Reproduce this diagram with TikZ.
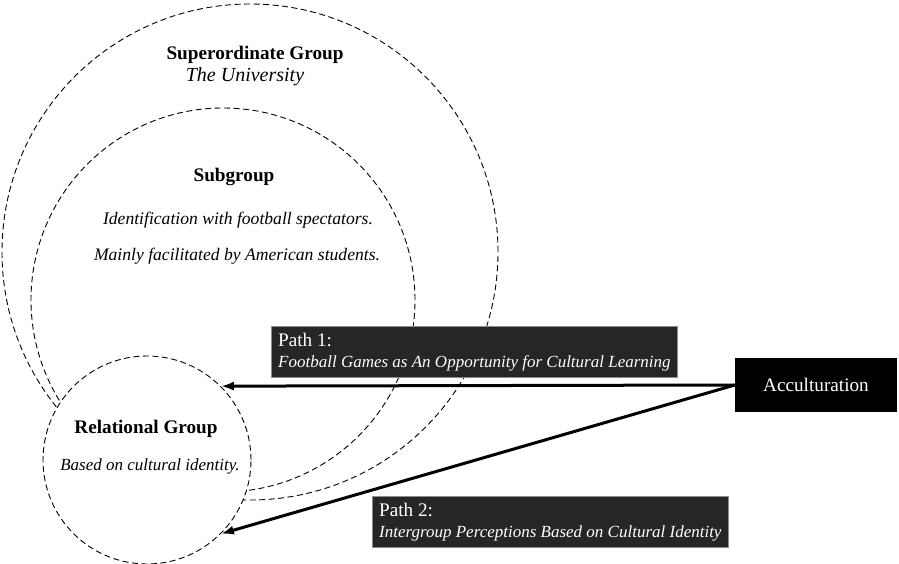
\documentclass[tikz,border=0pt]{standalone}
\usepackage{fontspec}
\setmainfont{LiberationSerif}[Extension=.ttf,UprightFont=*-Regular,BoldFont=*-Bold,ItalicFont=*-Italic,BoldItalicFont=*-BoldItalic]
\usetikzlibrary{arrows.meta}

\begin{document}
\begin{tikzpicture}[x=1pt,y=-1pt,
groupcircle/.style={circle,draw=black,dash pattern=on 6pt off 3.5pt,line width=0.9pt,inner sep=0pt},
grouptitle/.style={anchor=base,font=\fontsize{19.2}{22}\selectfont\bfseries},
groupnote/.style={anchor=base,font=\fontsize{17.6}{20}\selectfont\itshape},
pathbox/.style={anchor=north west,fill=black!85,draw=black!45,text=white,align=left,inner xsep=7pt,inner ysep=7pt,font=\fontsize{19.2}{20.5}\selectfont},
accbox/.style={fill=black,text=white,minimum width=162pt,minimum height=54pt,font=\fontsize{19.2}{22}\selectfont},
patharrow/.style={-{Latex[length=13pt,width=9pt]},line width=3pt}]
\useasboundingbox (0,0) rectangle (899,564);
\node (super) at (250,252) [groupcircle,minimum size=496pt] {};
\node (sub) at (223,300) [groupcircle,minimum size=384pt] {};
\node (rel) at (147,460) [groupcircle,fill=white,minimum size=208pt] {};
\node (supertitle) at (255,60) [grouptitle] {Superordinate Group};
\node (supernote) at (245,82) [groupnote,font=\fontsize{20}{24}\selectfont\itshape] {The University};
\node (subtitle) at (234,182) [grouptitle] {Subgroup};
\node (subnoteone) at (238,225) [groupnote] {Identification with football spectators.};
\node (subnotetwo) at (237,260) [groupnote] {Mainly facilitated by American students.};
\node (reltitle) at (146,433) [grouptitle] {Relational Group};
\node (relnote) at (150,470) [groupnote,font=\fontsize{17}{20}\selectfont\itshape] {Based on cultural identity.};
\node (acc) at (816,385) [accbox] {Acculturation};
\draw [patharrow] (acc.west) -- (rel.45);
\draw [patharrow] (acc.west) -- (rel.-45);
\node (pathone) at (271,326) [pathbox] {Path 1:\\{\fontsize{17}{20.5}\selectfont\itshape Football Games as An Opportunity for Cultural Learning}};
\node (pathtwo) at (372,496) [pathbox] {Path 2:\\{\fontsize{17}{20.5}\selectfont\itshape Intergroup Perceptions Based on Cultural Identity}};
\end{tikzpicture}
\end{document}
